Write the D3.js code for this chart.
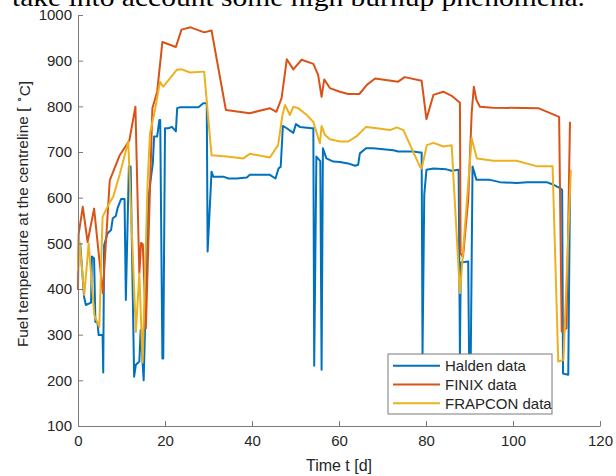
<!DOCTYPE html>
<html>
<head>
<meta charset="utf-8">
<script src="https://cdn.jsdelivr.net/npm/d3@7"></script>
<style>
	body { margin: 0; background: #fff; }
	svg { display: block; }
</style>
</head>
<body>
<svg id="chart" width="616" height="476"></svg>
<script>
// Halden measurements
const haldenDays = [0.5, 1.4, 1.8, 3.0, 3.2, 3.7, 4.0, 4.5, 4.75, 5.65, 5.8, 6.0, 6.8, 7.6, 8.0, 8.7, 9.1, 9.9, 10.7, 11.0,
	11.7, 12.1, 12.9, 13.3, 14.1, 14.4, 15.1, 15.4, 16.2, 16.6, 17.2, 17.5, 18.2, 18.7, 18.9, 19.4, 19.6, 20.0, 20.8, 21.6,
	22.5, 22.8, 23.5, 27.7, 28.8, 29.6, 29.8, 30.7, 31.1, 33.4, 34.6, 36.5, 38.8, 39.5, 44.1, 45.4, 46.1, 46.6, 47.1, 48.0,
	49.5, 50.1, 51.0, 53.7, 54.1, 54.3, 54.8, 55.7, 56.0, 56.3, 57.1, 58.7, 60.2, 62.1, 63.7, 64.4, 64.8, 66.2, 67.9, 72.5,
	73.6, 77.1, 78.6, 79.0, 79.2, 79.6, 80.1, 81.7, 84.7, 85.9, 87.5, 87.8, 88.0, 89.7, 89.9, 90.3, 90.7, 91.6, 94.7, 97.0,
	100.8, 103.3, 107.7, 108.9, 110.8, 111.3, 111.5, 112.7, 113.1];
const haldenTemp = [500, 383, 365, 370, 471, 467, 328, 326, 299, 299, 217, 496, 522, 529, 555, 560, 577, 597, 597, 376,
	668, 668, 208, 234, 241, 310, 200, 310, 600, 632, 675, 734, 734, 770, 770, 248, 248, 752, 752, 755,
	745, 796, 798, 798, 807, 807, 482, 657, 646, 646, 642, 642, 644, 650, 650, 642, 664, 668, 757, 752,
	742, 761, 755, 752, 752, 232, 690, 680, 223, 708, 686, 679, 678, 675, 670, 672, 697, 708, 708, 704,
	701, 701, 699, 699, 255, 606, 661, 664, 662, 659, 661, 258, 458, 460, 258, 258, 668, 639, 639, 634,
	632, 634, 634, 630, 621, 617, 215, 212, 617];

// FINIX results
const finixDays = [0, 0.15, 1.1, 2.2, 3.7, 5.7, 7.3, 9.6, 11.8, 13.2, 14.1, 14.5, 14.9, 15.6, 17.1, 18.2, 19.4, 22.5, 23.8, 25.9,
	29.0, 30.7, 34.0, 39.5, 44.1, 45.6, 46.8, 48.0, 49.5, 51.4, 54.1, 55.2, 56.0, 56.6, 57.9, 60.2, 62.1, 64.7, 66.4, 68.3,
	73.6, 75.1, 79.0, 80.1, 81.7, 84.0, 85.9, 87.8, 87.95, 88.5, 89.7, 90.5, 91.0, 91.6, 92.4, 95.3, 105.8, 110.6, 111.2, 112.3,
	113.1];
const finixTemp = [398, 520, 580, 503, 576, 391, 638, 693, 725, 799, 434, 501, 498, 314, 796, 832, 941, 930, 968, 973,
	962, 966, 792, 785, 796, 788, 818, 903, 881, 902, 893, 869, 821, 859, 840, 832, 827, 827, 847, 861,
	854, 864, 856, 772, 825, 832, 823, 808, 478, 470, 595, 785, 843, 814, 799, 797, 796, 777, 307, 314,
	766];

// FRAPCON results
const frapconDays = [0, 0.35, 1.45, 2.45, 3.75, 4.9, 5.65, 7.2, 8.1, 9.65, 11.55, 13.3, 14.1, 14.85, 16.0, 16.55, 17.7, 18.85, 19.6, 22.7,
	23.85, 25.75, 29.0, 30.7, 34.2, 38.0, 39.5, 44.1, 46.0, 47.0, 47.6, 48.7, 49.5, 50.6, 52.6, 54.1, 55.6, 56.0, 56.8, 57.9,
	60.2, 62.1, 64.0, 66.2, 68.7, 71.7, 73.3, 74.8, 78.6, 79.0, 80.2, 81.7, 84.0, 85.9, 87.8, 90.5, 91.7, 95.5, 100.8, 105.4,
	109.1, 110.4, 111.6, 113.3];
const frapconTemp = [440, 504, 387, 500, 343, 317, 558, 588, 602, 653, 723, 306, 434, 239, 632, 741, 792, 854, 843, 880,
	881, 874, 876, 693, 690, 686, 696, 688, 715, 781, 803, 781, 799, 796, 781, 766, 719, 757, 737, 728,
	723, 723, 734, 755, 752, 748, 754, 748, 668, 664, 715, 720, 712, 715, 391, 730, 686, 681, 681, 669,
	669, 241, 245, 661];

const xTicks = [0, 20, 40, 60, 80, 100, 120];
const yTicks = [100, 200, 300, 400, 500, 600, 700, 800, 900, 1000];
const seriesNames = ['Halden data', 'FINIX data', 'FRAPCON data'];
const seriesColors = ['#0072BD', '#D95319', '#EDB120'];

const zip = (ts, vs) => ts.map((t, i) => ({ t: t, v: vs[i] }));
const series = [
	zip(haldenDays, haldenTemp),
	zip(finixDays, finixTemp),
	zip(frapconDays, frapconTemp)
];

const svg = d3.select('#chart');
const font = "'Liberation Sans', Arial, Helvetica, sans-serif";
const ink = '#262626';

// plot box
const boxL = 78, boxR = 600, boxT = 15, boxB = 426;

const x = d3.scaleLinear().domain([0, 120]).range([boxL, boxR]);
const y = d3.scaleLinear().domain([100, 1000]).range([boxB, boxT]);

svg.append('rect').attr('width', 616).attr('height', 476).style('fill', '#fff');

// cropped caption line from the paper above the figure (squeezed to the page width)
svg.append('text')
	.attr('x', 12)
	.attr('y', 6)
	.attr('textLength', 573)
	.attr('lengthAdjust', 'spacingAndGlyphs')
	.style('font-family', "'Liberation Serif', 'Times New Roman', Times, serif")
	.style('font-size', '25px')
	.style('fill', '#000')
	.text('take into account some high burnup phenomena.');

// series lines
const line = d3.line()
	.x(d => x(d.t))
	.y(d => y(d.v));

// draw in order so yellow sits on top
svg.append('g')
	.selectAll('path')
	.data(series)
	.join('path')
	.attr('d', line)
	.style('fill', 'none')
	.style('stroke', (d, i) => seriesColors[i])
	.style('stroke-width', 2)
	.style('stroke-linejoin', 'round');

// axes (ticks point inward)
const xAxis = svg.append('g')
	.attr('transform', 'translate(0,' + boxB + ')')
	.call(d3.axisBottom(x).tickValues(xTicks).tickFormat(d3.format('d'))
		.tickSizeInner(-5).tickSizeOuter(0).tickPadding(9));

const yAxis = svg.append('g')
	.attr('transform', 'translate(' + boxL + ',0)')
	.call(d3.axisLeft(y).tickValues(yTicks).tickFormat(d3.format('d'))
		.tickSizeInner(-5).tickSizeOuter(0).tickPadding(6));

[xAxis, yAxis].forEach(g => {
	g.select('.domain').style('stroke', '#7a7a7a').style('stroke-width', 1);
	g.selectAll('.tick line').style('stroke', '#7a7a7a').style('stroke-width', 1);
	g.selectAll('.tick text')
		.style('font-family', font)
		.style('font-size', '15px')
		.style('fill', ink);
});

// axis titles
svg.append('text')
	.attr('x', (boxL + boxR) / 2)
	.attr('y', 471)
	.style('text-anchor', 'middle')
	.style('font-family', font)
	.style('font-size', '16px')
	.style('fill', ink)
	.text('Time t [d]');

const yTitle = svg.append('text')
	.attr('transform', 'translate(28,214) rotate(-90)')
	.style('text-anchor', 'middle')
	.style('font-family', font)
	.style('font-size', '15.4px')
	.style('fill', ink);
yTitle.append('tspan').text('Fuel temperature at the centreline [ ');
yTitle.append('tspan').attr('dy', '-0.45em').style('font-size', '11px').text('\u2218');
yTitle.append('tspan').attr('dy', '0.45em').text('C]');

// legend
const legend = svg.append('g').attr('transform', 'translate(388,354)');
legend.append('rect')
	.attr('width', 164)
	.attr('height', 60)
	.style('fill', '#fff')
	.style('stroke', '#7a7a7a')
	.style('stroke-width', 1);

const rows = legend.selectAll('g.row')
	.data(seriesNames)
	.join('g')
	.attr('class', 'row')
	.attr('transform', (d, i) => 'translate(0,' + (11.7 + i * 18.8) + ')');

rows.append('line')
	.attr('x1', 5).attr('x2', 52)
	.style('stroke', (d, i) => seriesColors[i])
	.style('stroke-width', 2);

rows.append('text')
	.attr('x', 57)
	.attr('dy', '0.35em')
	.style('font-family', font)
	.style('font-size', '15px')
	.style('fill', ink)
	.text(d => d);
</script>
</body>
</html>
